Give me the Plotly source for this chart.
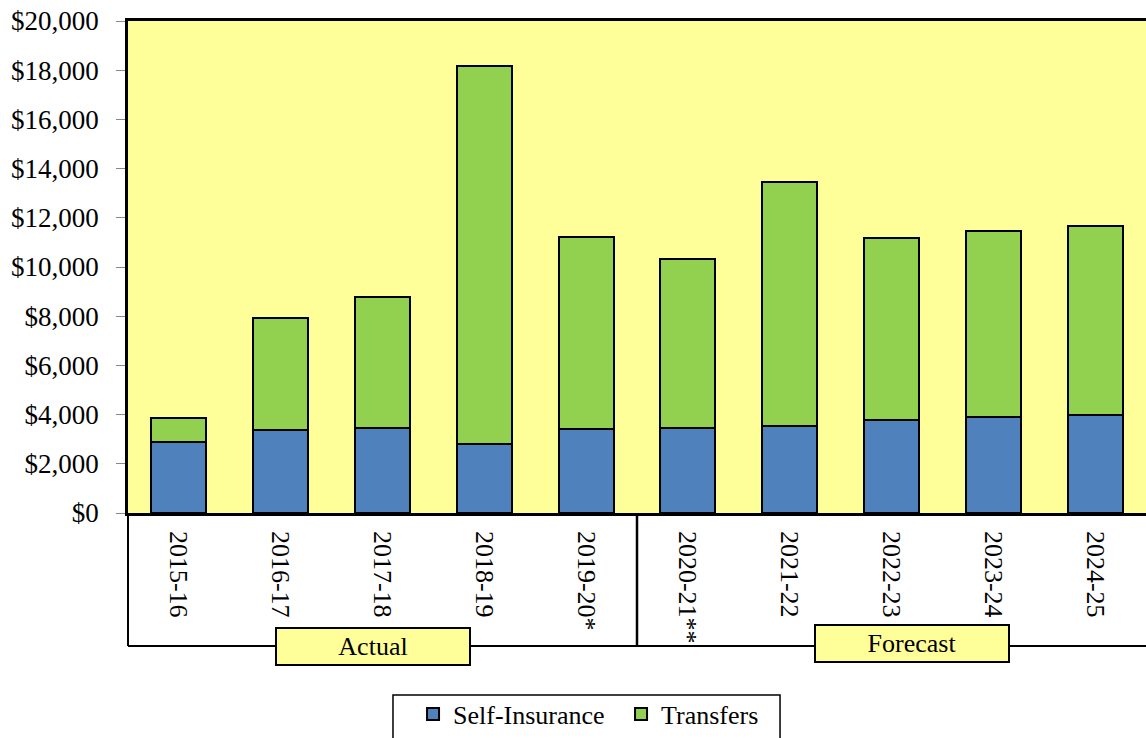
import plotly.graph_objects as go

# --- дані ---
years = ['2015-16', '2016-17', '2017-18', '2018-19', '2019-20*',
         '2020-21**', '2021-22', '2022-23', '2023-24', '2024-25']
self_insurance = [2870, 3360, 3465, 2815, 3425, 3465, 3520, 3765, 3900, 4000]
transfers = [990, 4570, 5335, 15365, 7775, 6875, 9935, 7425, 7545, 7680]
y_ticks = list(range(0, 20001, 2000))
y_tick_labels = [f"${v:,}" for v in y_ticks]
group_labels = ['Actual', 'Forecast']

FONT = 'Liberation Serif'
BLUE = '#4F81BD'
GREEN = '#92D050'
YELLOW = '#FFFF99'

fig = go.Figure()
fig.add_trace(go.Bar(x=years, y=self_insurance, name='Self-Insurance',
                     marker=dict(color=BLUE, line=dict(color='black', width=2))))
fig.add_trace(go.Bar(x=years, y=transfers, name='Transfers',
                     marker=dict(color=GREEN, line=dict(color='black', width=2))))

fig.update_layout(
    barmode='stack',
    bargap=0.46,
    width=1146, height=738,
    margin=dict(l=128, r=0, t=21, b=225, autoexpand=False),
    plot_bgcolor=YELLOW,
    paper_bgcolor='white',
    font=dict(family=FONT, size=26, color='black'),
    legend=dict(orientation='h', x=0.28, xanchor='left', y=-0.361, yanchor='top',
                borderwidth=0, bgcolor='rgba(0,0,0,0)',
                font=dict(family=FONT, size=26), traceorder='normal',
                itemwidth=30, entrywidth=163),
    showlegend=True,
)

fig.update_yaxes(range=[0, 20000], tickvals=y_ticks, ticktext=y_tick_labels,
                 showgrid=False, zeroline=False, automargin=False,
                 ticks='outside', ticklen=9, tickcolor='#888888', ticklabelstandoff=12,
                 showline=True, linecolor='black', linewidth=2.5, mirror=True,
                 tickfont=dict(family=FONT, size=27))
fig.update_xaxes(tickangle=90, showgrid=False, ticks='', ticklabelstandoff=10,
                 automargin=False,
                 showline=True, linecolor='black', linewidth=2.5, mirror=True,
                 tickfont=dict(family=FONT, size=26))

# рамка під підписами категорій
box_bottom = -0.2703
fig.add_shape(type='line', xref='paper', yref='paper', x0=0, x1=0, y0=0, y1=box_bottom,
              line=dict(color='black', width=2))
fig.add_shape(type='line', xref='paper', yref='paper', x0=0, x1=1, y0=box_bottom, y1=box_bottom,
              line=dict(color='black', width=2))
fig.add_shape(type='line', xref='x', yref='paper', x0=4.5, x1=4.5, y0=0, y1=box_bottom,
              line=dict(color='black', width=2.5))

# рамка легенди
fig.add_shape(type='rect', xref='paper', yref='paper', x0=0.2603, x1=0.6405, y0=-0.3699, y1=-0.49,
              line=dict(color='black', width=1.5), fillcolor='rgba(0,0,0,0)', layer='below')

# підписи груп
for label, xc, yc in zip(group_labels, [1.91, 7.2], [-0.2713, -0.266]):
    fig.add_annotation(text=label, xref='x', yref='paper', x=xc, y=yc,
                       xanchor='center', yanchor='middle',
                       showarrow=False, width=190, height=33,
                       bgcolor=YELLOW, bordercolor='black', borderwidth=2, borderpad=1,
                       font=dict(family=FONT, size=26))

fig.write_html("out.html", post_script="document.body.style.margin='0';",
               config={'displayModeBar': False})
